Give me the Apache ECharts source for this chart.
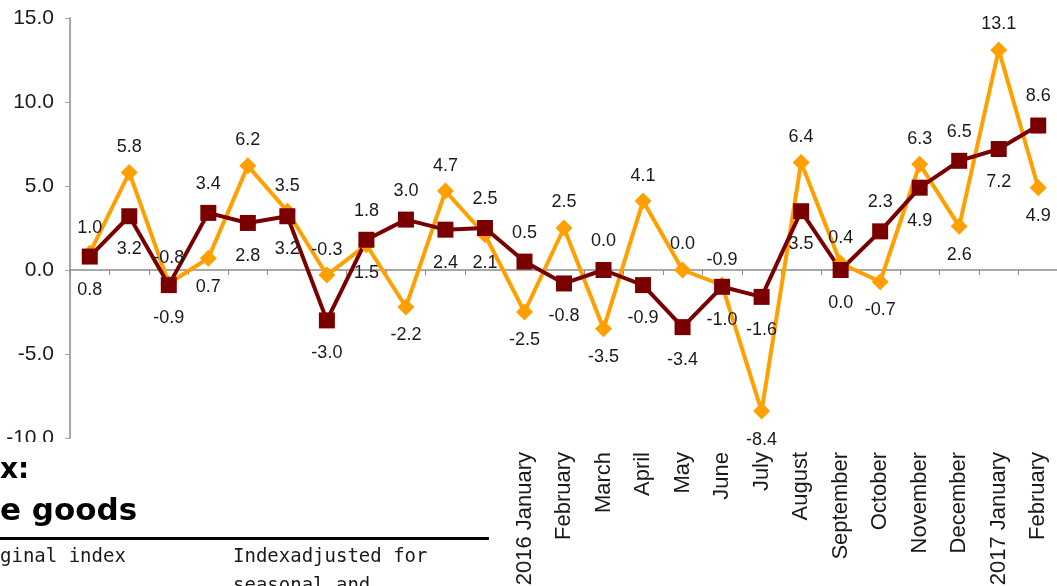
<!DOCTYPE html>
<html>
<head>
<meta charset="utf-8">
<script src="https://cdn.jsdelivr.net/npm/echarts@6/dist/echarts.min.js"></script>
<style>
  html, body { margin: 0; padding: 0; background: #fff; }
  #chart { width: 1057px; height: 586px; }
</style>
</head>
<body>
<div id="chart"></div>
<script>
const categories = [
  '2015 February', 'March', 'April', 'May', 'June', 'July', 'August',
  'September', 'October', 'November', 'December',
  '2016 January', 'February', 'March', 'April', 'May', 'June', 'July',
  'August', 'September', 'October', 'November', 'December',
  '2017 January', 'February'
];
const originalIndex = [1.0, 5.8, -0.8, 0.7, 6.2, 3.5, -0.3, 1.5, -2.2, 4.7, 2.1,
  -2.5, 2.5, -3.5, 4.1, 0.0, -0.9, -8.4, 6.4, 0.4, -0.7, 6.3, 2.6, 13.1, 4.9];
const adjustedIndex = [0.8, 3.2, -0.9, 3.4, 2.8, 3.2, -3.0, 1.8, 3.0, 2.4, 2.5,
  0.5, -0.8, 0.0, -0.9, -3.4, -1.0, -1.6, 3.5, 0.0, 2.3, 4.9, 6.5, 7.2, 8.6];
const yMin = -10;
const yMax = 15;
const yStep = 5;

// points where both labels sit under the markers
const bothBelow = [17];

const textColor = '#1a1a1a';
const orange = '#ffa000';
const darkRed = '#7a0000';

function buildPoints(values, other, gapUp, gapDown) {
  let out = [];
  for (var i = 0; i < values.length; i++) {
    let up = values[i] > other[i] || (values[i] == other[i] && values === originalIndex);
    if (bothBelow.indexOf(i) >= 0) up = false;
    out.push({
      value: values[i],
      label: {
        position: up ? 'top' : 'bottom',
        distance: up ? gapUp : gapDown
      }
    });
  }
  return out;
}

function seriesItem(name, values, other, color, symbol, size, gapUp, gapDown) {
  return {
    name: name,
    type: 'line',
    xAxisIndex: 0,
    data: buildPoints(values, other, gapUp, gapDown),
    symbol: symbol,
    symbolSize: size,
    showAllSymbol: true,
    lineStyle: { color: color, width: 4 },
    itemStyle: { color: color },
    label: {
      show: true,
      color: textColor,
      fontSize: 18,
      fontFamily: 'Liberation Sans',
      formatter: function (p) { return p.value.toFixed(1); }
    },
    emphasis: { disabled: true },
    animation: false
  };
}

const chart = echarts.init(document.getElementById('chart'), null, { renderer: 'canvas' });

chart.setOption({
  backgroundColor: '#fff',
  grid: { left: 70, top: 18, width: 988, height: 420, containLabel: false, outerBoundsMode: 'none' },
  xAxis: [
    {
      type: 'category',
      data: categories,
      position: 'bottom',
      boundaryGap: true,
      axisLine: { show: false, onZero: false },
      axisTick: { show: false },
      axisLabel: {
        rotate: 90,
        interval: 0,
        margin: 14,
        color: textColor,
        fontSize: 22,
        fontFamily: 'Liberation Sans'
      },
      splitLine: { show: false }
    },
    {
      type: 'category',
      data: categories,
      position: 'bottom',
      boundaryGap: true,
      axisLine: { show: true, onZero: true, lineStyle: { color: '#8c8c8c', width: 1.5 } },
      axisTick: { show: true, interval: 0, length: 5, lineStyle: { color: '#8c8c8c' } },
      axisLabel: { show: false },
      splitLine: { show: false }
    }
  ],
  yAxis: {
    type: 'value',
    min: yMin,
    max: yMax,
    interval: yStep,
    axisLine: { show: true, lineStyle: { color: '#a6a6a6', width: 2 } },
    axisTick: { show: true, length: 5, lineStyle: { color: '#a6a6a6' } },
    axisLabel: {
      margin: 16,
      color: textColor,
      fontSize: 21,
      fontFamily: 'Liberation Sans',
      formatter: function (v) { return v.toFixed(1); }
    },
    splitLine: { show: false }
  },
  series: [
    seriesItem('Original index', originalIndex, adjustedIndex, orange, 'diamond', 17, 8, 11),
    seriesItem('Index adjusted for seasonal and calendar effects', adjustedIndex, originalIndex, darkRed, 'rect', 16, 12, 16)
  ],
  graphic: [
    {
      type: 'rect',
      z: 100,
      shape: { x: 0, y: 442, width: 502, height: 144 },
      style: { fill: '#fff' }
    },
    {
      type: 'text',
      z: 101,
      x: 0, y: 457,
      style: { text: 'x:', fill: '#000', font: 'bold 28px "DejaVu Sans"' }
    },
    {
      type: 'text',
      z: 101,
      x: 0, y: 496,
      style: { text: 'e goods', fill: '#000', font: 'bold 31px "DejaVu Sans"' }
    },
    {
      type: 'rect',
      z: 101,
      shape: { x: 0, y: 537, width: 489, height: 3 },
      style: { fill: '#000' }
    },
    {
      type: 'text',
      z: 101,
      x: 0, y: 548,
      style: { text: 'ginal index', fill: '#1a1a1a', font: '19px "DejaVu Sans Mono"' }
    },
    {
      type: 'text',
      z: 101,
      x: 233, y: 548,
      style: { text: 'Indexadjusted for', fill: '#1a1a1a', font: '19px "DejaVu Sans Mono"' }
    },
    {
      type: 'text',
      z: 101,
      x: 233, y: 577,
      style: { text: 'seasonal and', fill: '#1a1a1a', font: '19px "DejaVu Sans Mono"' }
    }
  ]
});
</script>
</body>
</html>
